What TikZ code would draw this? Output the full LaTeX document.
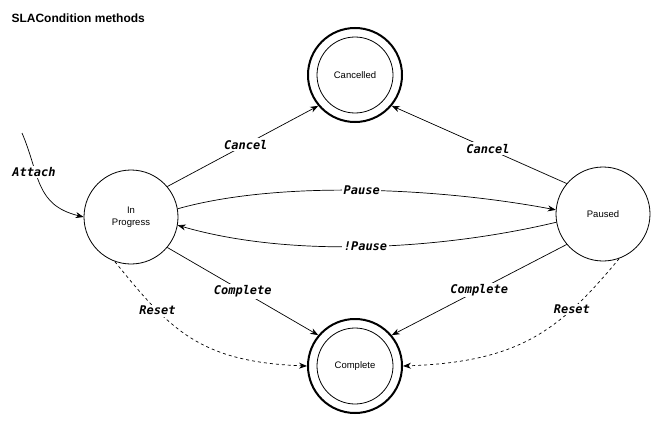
\documentclass[tikz,border=0pt]{standalone}
\usepackage{fontspec}
\setmainfont{Liberation Sans}
\setmonofont{DejaVu Sans Mono}
\usetikzlibrary{arrows.meta}
\begin{document}
\begin{tikzpicture}[x=1pt,y=-1pt,
  st/.style={circle,draw,line width=0.8pt,minimum size=94pt,inner sep=0pt,align=center,font=\fontsize{9.5}{11.5}\selectfont},
  ring/.style={circle,draw,line width=2pt,minimum size=94pt,inner sep=0pt},
  inn/.style={circle,draw,line width=0.8pt,minimum size=76pt,inner sep=0pt,font=\fontsize{9.5}{11.5}\selectfont},
  tr/.style={-{Stealth[length=8pt,width=6pt]},line width=0.7pt},
  lb/.style={font=\fontsize{12}{14}\selectfont\ttfamily\bfseries\itshape,fill=white,inner sep=1.5pt}]
\useasboundingbox (0,0) rectangle (662,431);
\node[anchor=west,font=\fontsize{12}{14}\selectfont\bfseries] (title) at (8,18) {SLACondition methods};
\node[st] (ip) at (131,217) {In\\Progress};
\node[st] (pa) at (603,214) {Paused};
\node[ring] (caR) at (355,75) {};
\node[inn] (ca) at (355,75) {Cancelled};
\node[ring] (coR) at (355,366) {};
\node[inn] (co) at (355,366) {Complete};
\coordinate (start) at (22,133);
\draw[tr] (start) .. controls (40,175) and (35,205) .. (ip.west);
\node[lb] (l1) at (34,172) {Attach};
\draw[tr] (ip.40) -- node[lb,pos=0.52] (l2) {Cancel} (caR.220);
\draw[tr] (pa.140) -- node[lb,pos=0.45] (l3) {Cancel} (caR.-40);
\draw[tr] (ip.10) .. controls (280,180) and (440,188) .. node[lb,pos=0.5] (l4) {Pause} (pa.175);
\draw[tr] (pa.190) .. controls (440,250) and (290,258) .. node[lb,pos=0.5] (l5) {!Pause} (ip.-10);
\draw[tr] (ip.-40) -- node[lb,pos=0.5] (l6) {Complete} (coR.140);
\draw[tr] (pa.-140) -- node[lb,pos=0.5] (l7) {Complete} (coR.40);
\draw[tr,dashed] (ip.-110) .. controls (170,330) and (200,362) .. node[lb,pos=0.28] (l8) {Reset} (coR.180);
\draw[tr,dashed] (pa.-70) .. controls (560,330) and (520,362) .. node[lb,pos=0.28] (l9) {Reset} (coR.0);
\end{tikzpicture}
\end{document}
